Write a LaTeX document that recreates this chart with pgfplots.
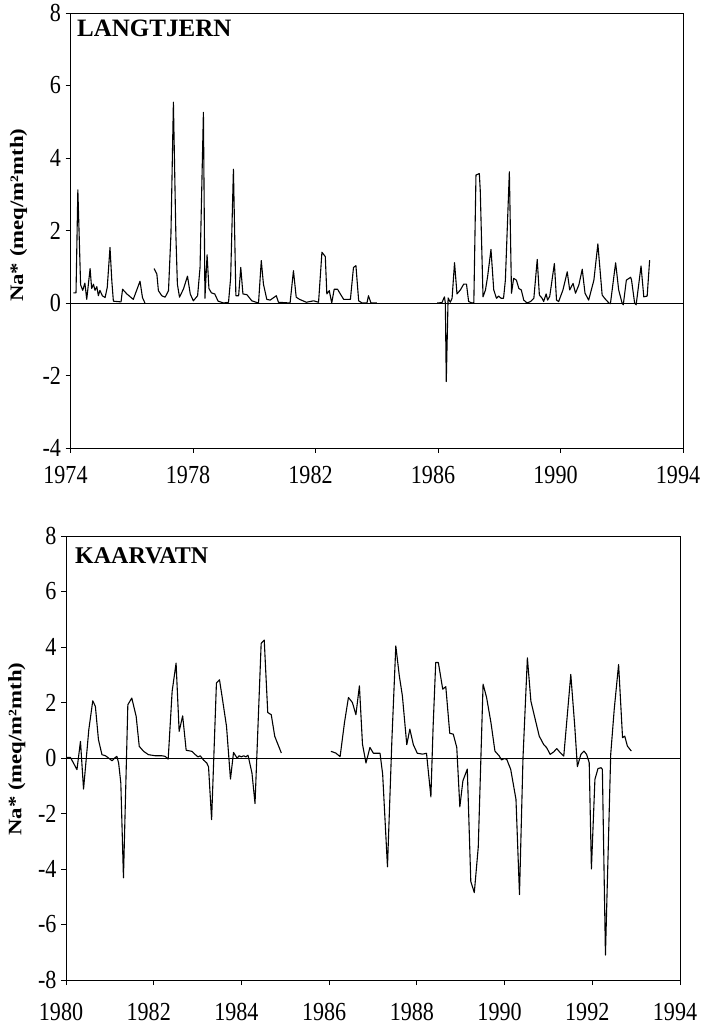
\documentclass[border=0pt]{standalone}
\usepackage{fontspec}
\setmainfont{Liberation Serif}
\newfontfamily\tickfont[FakeStretch=0.85]{Liberation Serif}
\newfontfamily\labfont[FakeStretch=1.2]{Liberation Serif}
\usepackage{pgfplots}
\pgfplotsset{compat=1.18}
\pgfplotsset{panel/.style={
  scale only axis,
  anchor=south west,
  axis line style={line width=0.8pt},
  tick style={black, line width=0.8pt},
  tick align=outside,
  major tick length=5pt,
  xtick pos=left, ytick pos=left,
  xticklabel style={font=\tickfont\fontsize{26}{26}\selectfont, xshift=-5pt},
  yticklabel style={font=\tickfont\fontsize{26}{26}\selectfont, xshift=-1pt},
  ylabel={Na* (meq/m²mth)},
  ylabel style={font=\labfont\bfseries\fontsize{19}{19}\selectfont, anchor=center},
  clip=false,
}, dataline/.style={black, line width=1.1pt, line join=round}}
\begin{document}
\begin{tikzpicture}
\useasboundingbox (0,0) rectangle (702pt,1029pt);
% ---------------- LANGTJERN ----------------
\begin{axis}[panel, at={(70.5pt,581pt)}, width=612.5pt, height=435pt,
  xmin=1974, xmax=1994, ymin=-4, ymax=8,
  xtick={1974,1978,1982,1986,1990,1994}, xticklabels={1974,1978,1982,1986,1990,1994},
  ytick={-4,-2,0,2,4,6,8}, yticklabels={-4,-2,0,2,4,6,8},
  xticklabel style={yshift=-10pt},
  ylabel style={at={(axis description cs:-0.085,0.535)}}]
\addplot[black, line width=0.8pt] coordinates {(1974,0) (1994,0)};
\addplot[dataline] table {
1974.09 0.28
1974.18 0.28
1974.24 3.12
1974.33 0.50
1974.40 0.35
1974.47 0.55
1974.53 0.10
1974.64 0.95
1974.69 0.40
1974.75 0.52
1974.80 0.35
1974.86 0.45
1974.91 0.20
1974.96 0.35
1975.04 0.20
1975.13 0.15
1975.20 0.43
1975.29 1.53
1975.35 0.60
1975.40 0.05
1975.65 0.03
1975.70 0.38
1975.84 0.25
1976.05 0.10
1976.27 0.60
1976.35 0.15
1976.43 0.00
};
\addplot[dataline] table {
1976.73 0.95
1976.82 0.80
1976.87 0.34
1976.98 0.20
1977.09 0.16
1977.20 0.34
1977.28 1.90
1977.36 5.54
1977.44 1.90
1977.49 0.52
1977.56 0.16
1977.69 0.39
1977.82 0.74
1977.91 0.25
1978.01 0.06
1978.15 0.20
1978.23 0.98
1978.34 5.26
1978.39 0.13
1978.46 1.33
1978.52 0.40
1978.60 0.28
1978.71 0.25
1978.82 0.05
1979.00 0.00
1979.16 0.02
1979.23 0.70
1979.32 3.69
1979.40 0.20
1979.49 0.20
1979.56 0.98
1979.63 0.25
1979.76 0.23
1979.92 0.06
1980.14 0.00
1980.23 1.17
1980.30 0.52
1980.41 0.10
1980.52 0.08
1980.72 0.20
1980.79 0.02
1981.17 0.00
1981.28 0.89
1981.37 0.16
1981.48 0.10
1981.70 0.02
1981.94 0.06
1982.10 0.02
1982.21 1.40
1982.32 1.28
1982.37 0.25
1982.45 0.34
1982.53 0.00
1982.61 0.38
1982.72 0.38
1982.81 0.25
1982.92 0.10
1983.14 0.10
1983.24 0.98
1983.32 1.03
1983.41 0.06
1983.52 0.00
1983.68 0.00
1983.73 0.20
1983.81 0.00
1984.00 0.00
};
\addplot[dataline] table {
1985.97 0.00
1986.13 0.01
1986.21 0.17
1986.24 0.00
1986.27 -2.17
1986.33 0.14
1986.40 0.02
1986.46 0.13
1986.54 1.11
1986.62 0.25
1986.73 0.36
1986.84 0.52
1986.93 0.52
1987.00 0.04
1987.11 0.00
1987.17 0.01
1987.24 3.53
1987.35 3.57
1987.38 3.10
1987.47 0.17
1987.55 0.36
1987.62 0.73
1987.73 1.48
1987.82 0.36
1987.91 0.13
1987.98 0.19
1988.06 0.13
1988.14 0.13
1988.20 0.63
1988.33 3.62
1988.40 0.27
1988.47 0.68
1988.56 0.63
1988.64 0.40
1988.72 0.36
1988.80 0.08
1988.91 0.00
1989.02 0.04
1989.13 0.13
1989.24 1.20
1989.31 0.22
1989.40 0.13
1989.45 0.04
1989.53 0.25
1989.58 0.08
1989.65 0.19
1989.80 1.09
1989.87 0.08
1989.94 0.04
1990.08 0.36
1990.22 0.86
1990.30 0.36
1990.41 0.54
1990.49 0.27
1990.60 0.50
1990.71 0.93
1990.80 0.27
1990.92 0.08
1991.09 0.63
1991.22 1.63
1991.36 0.22
1991.44 0.13
1991.58 0.00
1991.63 -0.02
1991.80 1.11
1991.90 0.36
1992.01 0.00
1992.05 -0.05
1992.15 0.63
1992.29 0.71
1992.32 0.63
1992.42 0.00
1992.47 -0.05
1992.63 1.02
1992.72 0.17
1992.83 0.19
1992.91 1.18
};
\node[anchor=north west, inner sep=0pt, font=\bfseries\fontsize{25}{25}\selectfont]
  at (axis description cs:0.0106,0.984) {LANGTJERN};
\end{axis}
% ---------------- KAARVATN ----------------
\begin{axis}[panel, at={(66pt,49pt)}, width=614pt, height=444pt,
  xmin=1980, xmax=1994, ymin=-8, ymax=8,
  xtick={1980,1982,...,1994}, xticklabels={1980,1982,1984,1986,1988,1990,1992,1994},
  ytick={-8,-6,...,8}, yticklabels={-8,-6,-4,-2,0,2,4,6,8},
  xticklabel style={yshift=-15pt},
  ylabel style={at={(axis description cs:-0.08,0.52)}}]
\addplot[black, line width=0.8pt] coordinates {(1980,0) (1994,0)};
\addplot[dataline] table {
1980.00 0.02
1980.10 0.02
1980.17 -0.18
1980.25 -0.42
1980.33 0.60
1980.40 -1.12
1980.48 0.30
1980.52 1.02
1980.61 2.06
1980.67 1.86
1980.74 0.66
1980.82 0.12
1980.90 0.08
1980.97 0.00
1981.05 -0.10
1981.11 0.00
1981.16 0.06
1981.20 -0.18
1981.25 -0.90
1981.31 -4.32
1981.41 1.92
1981.50 2.16
1981.60 1.50
1981.67 0.42
1981.77 0.24
1981.88 0.12
1982.04 0.08
1982.19 0.08
1982.26 0.06
1982.33 -0.04
1982.42 2.40
1982.51 3.42
1982.58 0.96
1982.66 1.52
1982.74 0.28
1982.87 0.24
1982.95 0.12
1983.01 0.04
1983.06 0.08
1983.14 -0.08
1983.21 -0.18
1983.25 -0.32
1983.32 -2.22
1983.43 2.70
1983.50 2.82
1983.56 2.20
1983.66 1.14
1983.75 -0.76
1983.82 0.20
1983.90 0.00
1983.95 0.08
1984.00 0.04
1984.05 0.08
1984.10 0.04
1984.15 0.10
1984.24 -0.54
1984.31 -1.64
1984.45 4.13
1984.52 4.25
1984.60 1.64
1984.68 1.56
1984.76 0.78
1984.91 0.18
};
\addplot[dataline] table {
1986.04 0.24
1986.15 0.18
1986.25 0.05
1986.35 1.28
1986.44 2.18
1986.53 2.00
1986.61 1.56
1986.69 2.60
1986.76 0.50
1986.84 -0.18
1986.93 0.38
1987.01 0.17
1987.16 0.17
1987.22 -0.58
1987.33 -3.92
1987.43 0.62
1987.52 4.04
1987.60 2.96
1987.67 2.24
1987.77 0.48
1987.84 1.04
1987.92 0.48
1988.01 0.17
1988.13 0.14
1988.22 0.17
1988.32 -1.40
1988.37 1.10
1988.43 3.44
1988.49 3.44
1988.59 2.48
1988.66 2.57
1988.75 0.89
1988.83 0.86
1988.91 0.38
1988.98 -1.76
1989.05 -0.82
1989.15 -0.40
1989.23 -4.45
1989.31 -4.85
1989.40 -3.21
1989.46 0.00
1989.51 2.66
1989.59 2.18
1989.69 1.27
1989.78 0.25
1989.88 0.07
1989.93 -0.07
1989.99 -0.02
1990.05 -0.05
1990.14 -0.41
1990.26 -1.49
1990.34 -4.92
1990.42 0.00
1990.52 3.61
1990.60 2.05
1990.69 1.45
1990.79 0.79
1990.89 0.49
1990.96 0.37
1991.04 0.13
1991.12 0.22
1991.19 0.34
1991.27 0.19
1991.35 0.07
1991.51 3.01
1991.60 1.15
1991.66 -0.31
1991.74 0.13
1991.81 0.25
1991.87 0.13
1991.93 -0.17
1991.98 -4.00
1992.06 -0.77
1992.13 -0.38
1992.20 -0.35
1992.23 -0.41
1992.30 -7.10
1992.42 0.13
1992.50 1.75
1992.60 3.37
1992.69 0.73
1992.74 0.79
1992.80 0.43
1992.89 0.25
};
\node[anchor=north west, inner sep=0pt, font=\bfseries\fontsize{24}{24}\selectfont]
  at (axis description cs:0.0147,0.975) {KAARVATN};
\end{axis}
\end{tikzpicture}
\end{document}
